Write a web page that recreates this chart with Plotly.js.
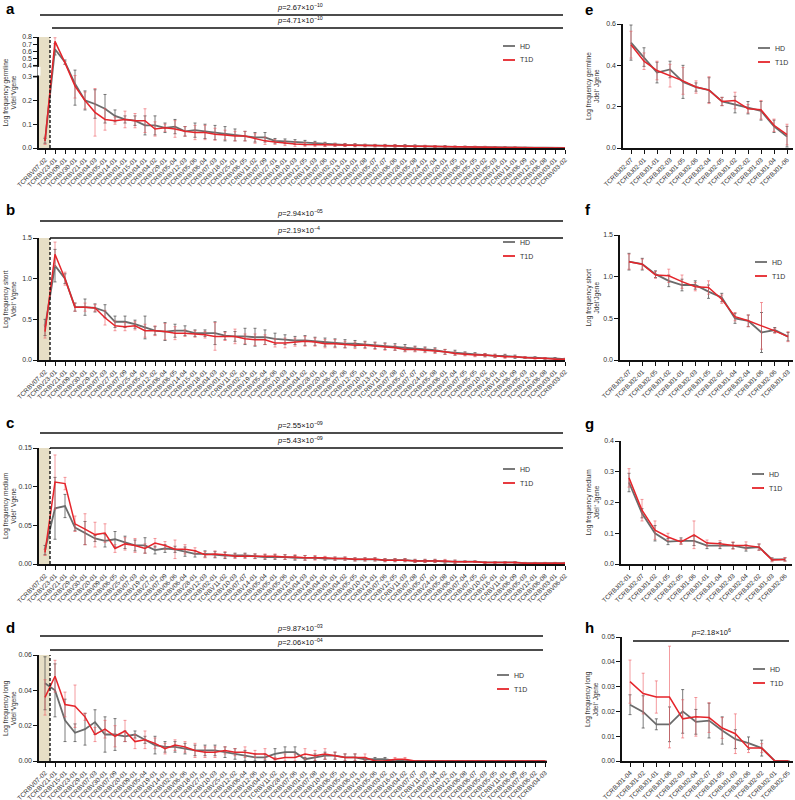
<!DOCTYPE html>
<html><head><meta charset="utf-8">
<script src="https://cdn.plot.ly/plotly-3.0.1.min.js"></script>
<style>html,body{margin:0;padding:0;background:#fff}#plot{width:795px;height:800px}</style>
</head><body><div id="plot"></div>
<script>
// ---------------- DATA ----------------
const catsA = ["TCRBV07-02","TCRBV23-01","TCRBV09-01","TCRBV30-01","TCRBV21-01","TCRBV04-03","TCRBV05-01","TCRBV14-01","TCRBV01-01","TCRBV15-01","TCRBV04-01","TCRBV04-02","TCRBV29-01","TCRBV05-04","TCRBV12-03","TCRBV05-06","TCRBV06-04","TCRBV07-03","TCRBV18-01","TCRBV25-01","TCRBV06-05","TCRBV11-02","TCRBV07-09","TCRBV27-01","TCRBV19-01","TCRBV10-03","TCRBV12-05","TCRBV11-03","TCRBV07-06","TCRBV02-01","TCRBV13-01","TCRBV10-01","TCRBV07-08","TCRBV05-07","TCRBV07-07","TCRBV06-06","TCRBV28-01","TCRBV05-08","TCRBV24-01","TCRBV07-04","TCRBV20-01","TCRBV07-05","TCRBV06-01","TCRBV05-05","TCRBV10-02","TCRBV05-03","TCRBV16-01","TCRBV11-01","TCRBV06-09","TCRBV12-01","TCRBV06-08","TCRBV03-01","TCRBV03-02"];
const hdA  = [0.03,0.63,0.45,0.27,0.20,0.185,0.165,0.135,0.12,0.115,0.095,0.095,0.085,0.09,0.07,0.075,0.07,0.065,0.06,0.055,0.05,0.045,0.045,0.03,0.028,0.025,0.022,0.02,0.016,0.014,0.013,0.012,0.011,0.010,0.010,0.009,0.009,0.008,0.007,0.006,0.006,0.005,0.005,0.004,0.004,0.003,0.003,0.002,0.002,0.001,0.001,0.001,0.0005];
const hdAe = [0.01,0.08,0.03,0.09,0.04,0.06,0.06,0.025,0.015,0.02,0.04,0.04,0.02,0.03,0.02,0.03,0.03,0.03,0.03,0.025,0.02,0.02,0.02,0.01,0.01,0.01,0.01,0.008,0.008,0.006,0.006,0.006,0.005,0.005,0.005,0.005,0.005,0.005,0.004,0.004,0.004,0.003,0.003,0.003,0.003,0.002,0.002,0.002,0.001,0.001,0.001,0.001,0.001];
const t1A  = [0.03,0.74,0.44,0.26,0.20,0.15,0.12,0.115,0.12,0.115,0.115,0.08,0.085,0.08,0.07,0.065,0.065,0.058,0.055,0.05,0.05,0.04,0.03,0.025,0.02,0.017,0.015,0.014,0.013,0.013,0.012,0.011,0.01,0.01,0.009,0.009,0.008,0.007,0.007,0.006,0.005,0.005,0.004,0.004,0.004,0.002,0.002,0.002,0.001,0.001,0.001,0.0005,0.0005];
const t1Ae = [0.015,0.05,0.02,0.05,0.035,0.1,0.045,0.015,0.035,0.03,0.05,0.03,0.015,0.035,0.02,0.03,0.03,0.025,0.02,0.02,0.02,0.02,0.015,0.01,0.01,0.01,0.008,0.008,0.007,0.006,0.006,0.006,0.005,0.005,0.005,0.005,0.004,0.004,0.004,0.004,0.003,0.003,0.003,0.003,0.002,0.002,0.002,0.002,0.001,0.001,0.001,0.001,0.001];

const catsB = ["TCRBV07-02","TCRBV23-01","TCRBV21-01","TCRBV09-01","TCRBV30-01","TCRBV29-01","TCRBV07-03","TCRBV27-01","TCRBV07-09","TCRBV25-04","TCRBV05-01","TCRBV12-02","TCRBV06-04","TCRBV06-05","TCRBV14-04","TCRBV15-01","TCRBV18-01","TCRBV04-03","TCRBV01-01","TCRBV11-02","TCRBV02-01","TCRBV19-01","TCRBV05-04","TCRBV05-06","TCRBV10-03","TCRBV04-01","TCRBV04-02","TCRBV28-01","TCRBV20-01","TCRBV06-06","TCRBV07-06","TCRBV12-05","TCRBV10-01","TCRBV13-01","TCRBV11-03","TCRBV07-08","TCRBV05-07","TCRBV07-07","TCRBV24-01","TCRBV05-08","TCRBV06-01","TCRBV07-04","TCRBV07-05","TCRBV05-05","TCRBV10-02","TCRBV16-01","TCRBV11-01","TCRBV06-09","TCRBV05-03","TCRBV12-01","TCRBV06-08","TCRBV03-01","TCRBV03-02"];
const hdB  = [0.40,1.16,1.00,0.65,0.65,0.64,0.60,0.47,0.47,0.44,0.40,0.36,0.35,0.36,0.36,0.33,0.33,0.33,0.30,0.29,0.29,0.28,0.28,0.26,0.25,0.24,0.24,0.23,0.22,0.21,0.20,0.20,0.19,0.18,0.17,0.16,0.15,0.14,0.13,0.12,0.10,0.09,0.08,0.07,0.06,0.05,0.05,0.04,0.03,0.03,0.02,0.02,0.01];
const hdBe = [0.10,0.20,0.06,0.05,0.10,0.05,0.08,0.07,0.07,0.05,0.14,0.05,0.11,0.08,0.06,0.04,0.04,0.14,0.05,0.06,0.10,0.11,0.09,0.07,0.06,0.05,0.06,0.05,0.05,0.05,0.05,0.04,0.04,0.04,0.04,0.04,0.04,0.03,0.03,0.03,0.03,0.03,0.02,0.02,0.02,0.02,0.02,0.02,0.01,0.01,0.01,0.01,0.01];
const t1B  = [0.35,1.30,1.00,0.65,0.65,0.64,0.52,0.42,0.41,0.42,0.36,0.36,0.35,0.33,0.33,0.32,0.31,0.29,0.29,0.29,0.26,0.25,0.25,0.21,0.21,0.22,0.23,0.22,0.20,0.20,0.19,0.18,0.18,0.17,0.16,0.15,0.13,0.13,0.12,0.11,0.10,0.08,0.07,0.06,0.06,0.05,0.04,0.04,0.03,0.02,0.02,0.01,0.01];
const t1Be = [0.08,0.15,0.08,0.05,0.05,0.04,0.09,0.06,0.05,0.05,0.08,0.06,0.10,0.08,0.04,0.04,0.04,0.17,0.05,0.09,0.06,0.07,0.06,0.05,0.06,0.05,0.06,0.05,0.05,0.05,0.04,0.04,0.04,0.04,0.04,0.03,0.03,0.03,0.03,0.03,0.03,0.02,0.02,0.02,0.02,0.02,0.02,0.01,0.01,0.01,0.01,0.01,0.01];

const catsC = ["TCRBV07-02","TCRBV23-01","TCRBV21-01","TCRBV29-01","TCRBV30-01","TCRBV20-01","TCRBV09-01","TCRBV06-05","TCRBV25-01","TCRBV07-03","TCRBV19-01","TCRBV27-01","TCRBV07-09","TCRBV06-06","TCRBV06-04","TCRBV28-01","TCRBV12-03","TCRBV02-01","TCRBV11-02","TCRBV10-03","TCRBV07-07","TCRBV14-01","TCRBV05-04","TCRBV05-01","TCRBV05-06","TCRBV15-01","TCRBV04-03","TCRBV18-01","TCRBV04-01","TCRBV01-01","TCRBV04-02","TCRBV05-05","TCRBV10-01","TCRBV13-01","TCRBV07-06","TCRBV12-05","TCRBV11-03","TCRBV07-08","TCRBV05-07","TCRBV24-01","TCRBV05-08","TCRBV06-01","TCRBV07-04","TCRBV07-05","TCRBV10-02","TCRBV16-01","TCRBV11-01","TCRBV06-09","TCRBV05-03","TCRBV12-01","TCRBV06-08","TCRBV03-01","TCRBV06-02"];
const hdC  = [0.018,0.072,0.075,0.047,0.040,0.033,0.030,0.032,0.028,0.024,0.024,0.018,0.020,0.019,0.016,0.013,0.013,0.012,0.011,0.011,0.011,0.010,0.009,0.009,0.009,0.008,0.008,0.008,0.007,0.007,0.007,0.006,0.006,0.006,0.005,0.005,0.005,0.004,0.004,0.004,0.003,0.003,0.003,0.003,0.002,0.002,0.002,0.002,0.001,0.001,0.001,0.001,0.001];
const hdCe = [0.006,0.040,0.015,0.004,0.015,0.004,0.008,0.010,0.008,0.007,0.010,0.005,0.005,0.004,0.006,0.004,0.004,0.004,0.004,0.003,0.003,0.003,0.003,0.003,0.003,0.003,0.003,0.002,0.002,0.002,0.002,0.002,0.002,0.002,0.002,0.002,0.002,0.002,0.002,0.002,0.002,0.002,0.001,0.001,0.001,0.001,0.001,0.001,0.001,0.001,0.001,0.001,0.001];
const t1C  = [0.015,0.106,0.104,0.052,0.045,0.038,0.040,0.020,0.026,0.024,0.020,0.027,0.024,0.019,0.019,0.017,0.012,0.013,0.012,0.010,0.010,0.010,0.010,0.010,0.009,0.009,0.008,0.008,0.008,0.007,0.007,0.006,0.006,0.006,0.005,0.005,0.005,0.004,0.004,0.004,0.004,0.003,0.003,0.003,0.002,0.002,0.002,0.002,0.001,0.001,0.001,0.001,0.001];
const t1Ce = [0.004,0.035,0.008,0.010,0.020,0.016,0.012,0.005,0.008,0.009,0.006,0.006,0.005,0.012,0.006,0.004,0.004,0.004,0.004,0.003,0.003,0.003,0.003,0.003,0.003,0.003,0.003,0.003,0.002,0.002,0.002,0.002,0.002,0.002,0.002,0.002,0.002,0.002,0.002,0.002,0.002,0.002,0.001,0.001,0.001,0.001,0.001,0.001,0.001,0.001,0.001,0.001,0.001];

const catsD = ["TCRBV07-02","TCRBV21-01","TCRBV15-01","TCRBV23-01","TCRBV29-01","TCRBV07-03","TCRBV30-01","TCRBV07-09","TCRBV20-01","TCRBV09-01","TCRBV05-04","TCRBV19-01","TCRBV14-01","TCRBV02-01","TCRBV06-06","TCRBV18-01","TCRBV27-01","TCRBV10-03","TCRBV25-01","TCRBV12-02","TCRBV06-04","TCRBV12-06","TCRBV04-01","TCRBV11-02","TCRBV28-01","TCRBV07-06","TCRBV01-01","TCRBV07-08","TCRBV10-01","TCRBV06-05","TCRBV05-01","TCRBV06-01","TCRBV13-01","TCRBV05-06","TCRBV03-02","TCRBV16-01","TCRBV04-02","TCRBV07-07","TCRBV11-03","TCRBV07-04","TCRBV10-02","TCRBV12-01","TCRBV06-08","TCRBV06-07","TCRBV05-03","TCRBV05-05","TCRBV11-01","TCRBV06-09","TCRBV07-05","TCRBV06-02","TCRBV04-03"];
const hdD  = [0.044,0.040,0.023,0.016,0.018,0.022,0.015,0.015,0.014,0.015,0.012,0.009,0.008,0.008,0.007,0.006,0.006,0.006,0.005,0.004,0.003,0.002,0.002,0.004,0.005,0.005,0.001,0.002,0.003,0.003,0.002,0.002,0.001,0.001,0.001,0.0,0.0,0.0,0.0,0.0,0.0,0.0,0.0,0.0,0.0,0.0,0.0,0.0,0.0,0.0,0.0];
const hdDe = [0.015,0.015,0.012,0.005,0.009,0.007,0.010,0.009,0.003,0.002,0.002,0.005,0.003,0.003,0.003,0.003,0.003,0.003,0.003,0.003,0.003,0.002,0.002,0.003,0.003,0.003,0.001,0.002,0.002,0.002,0.002,0.002,0.001,0.001,0.001,0.0,0.0,0.0,0.0,0.0,0.0,0.0,0.0,0.0,0.0,0.0,0.0,0.0,0.0,0.0,0.0];
const t1D  = [0.036,0.048,0.032,0.031,0.025,0.015,0.018,0.014,0.017,0.011,0.012,0.010,0.007,0.009,0.008,0.006,0.005,0.005,0.006,0.005,0.005,0.004,0.004,0.001,0.002,0.002,0.004,0.003,0.004,0.003,0.002,0.002,0.002,0.0,0.0,0.001,0.001,0.0,0.0,0.0,0.0,0.0,0.0,0.0,0.0,0.0,0.0,0.0,0.0,0.0,0.0];
const t1De = [0.010,0.009,0.007,0.012,0.002,0.004,0.005,0.006,0.006,0.004,0.005,0.003,0.003,0.003,0.003,0.004,0.003,0.003,0.002,0.002,0.003,0.002,0.003,0.001,0.002,0.002,0.003,0.003,0.003,0.002,0.002,0.002,0.002,0.0,0.0,0.001,0.001,0.0,0.0,0.0,0.0,0.0,0.0,0.0,0.0,0.0,0.0,0.0,0.0,0.0,0.0];

const catsE = ["TCRBJ02-07","TCRBJ02-01","TCRBJ01-01","TCRBJ02-03","TCRBJ01-05","TCRBJ02-06","TCRBJ02-04","TCRBJ02-05","TCRBJ01-02","TCRBJ02-02","TCRBJ01-03","TCRBJ01-04","TCRBJ01-06"];
const hdE  = [0.51,0.44,0.365,0.38,0.32,0.295,0.28,0.225,0.21,0.195,0.18,0.105,0.055];
const hdEe = [0.085,0.045,0.05,0.04,0.08,0.02,0.06,0.02,0.04,0.03,0.045,0.03,0.05];
const t1E  = [0.50,0.42,0.375,0.35,0.325,0.295,0.28,0.225,0.23,0.19,0.185,0.11,0.065];
const t1Ee = [0.065,0.04,0.045,0.055,0.065,0.03,0.065,0.02,0.04,0.02,0.045,0.03,0.05];

const catsF = ["TCRBJ02-07","TCRBJ02-01","TCRBJ02-05","TCRBJ01-02","TCRBJ01-01","TCRBJ02-03","TCRBJ01-05","TCRBJ02-02","TCRBJ01-04","TCRBJ02-04","TCRBJ01-06","TCRBJ02-06","TCRBJ01-03"];
const hdF  = [1.18,1.15,1.03,0.95,0.90,0.90,0.82,0.75,0.50,0.47,0.33,0.36,0.28];
const hdFe = [0.10,0.07,0.04,0.07,0.07,0.05,0.08,0.05,0.06,0.07,0.24,0.03,0.05];
const t1F  = [1.18,1.15,1.02,1.01,0.94,0.88,0.87,0.73,0.52,0.47,0.41,0.35,0.28];
const t1Fe = [0.09,0.06,0.04,0.08,0.08,0.05,0.08,0.05,0.05,0.07,0.28,0.03,0.06];

const catsG = ["TCRBJ02-01","TCRBJ02-07","TCRBJ01-02","TCRBJ01-05","TCRBJ02-05","TCRBJ01-06","TCRBJ01-01","TCRBJ01-04","TCRBJ02-03","TCRBJ02-04","TCRBJ02-02","TCRBJ01-03","TCRBJ02-06"];
const hdG  = [0.265,0.165,0.10,0.073,0.075,0.075,0.06,0.06,0.06,0.052,0.055,0.015,0.015];
const hdGe = [0.03,0.015,0.025,0.01,0.01,0.015,0.01,0.01,0.01,0.01,0.01,0.005,0.005];
const t1G  = [0.28,0.175,0.11,0.088,0.072,0.095,0.068,0.066,0.06,0.06,0.055,0.013,0.015];
const t1Ge = [0.03,0.035,0.03,0.012,0.008,0.045,0.01,0.01,0.012,0.012,0.01,0.006,0.006];

const catsH = ["TCRBJ01-04","TCRBJ01-02","TCRBJ01-01","TCRBJ01-06","TCRBJ02-03","TCRBJ02-04","TCRBJ02-07","TCRBJ01-05","TCRBJ01-03","TCRBJ02-06","TCRBJ02-02","TCRBJ02-01","TCRBJ02-05"];
const hdH  = [0.0227,0.0198,0.0148,0.0148,0.0200,0.0158,0.0163,0.0123,0.0088,0.0072,0.0052,0.0,0.0];
const hdHe = [0.004,0.0065,0.0022,0.007,0.0088,0.005,0.007,0.0055,0.0038,0.0025,0.0032,0.0,0.0];
const t1H  = [0.0320,0.0272,0.0258,0.0258,0.0170,0.0178,0.0175,0.0133,0.0110,0.0052,0.0052,0.0,0.0];
const t1He = [0.0087,0.0082,0.0065,0.0205,0.0077,0.0078,0.006,0.0042,0.008,0.0018,0.0018,0.0,0.0];

const pvals = {a:["2.67","−10","4.71","−10"], b:["2.94","−05","2.19","−4"], c:["2.55","−09","5.43","−09"], d:["9.87","−03","2.06","−04"], h:["2.18","6"]};

// -------------- LAYOUT HELPERS ---------------
const W = 795, H = 800;
const PX = p => p / W, PY = p => 1 - p / H;
const HDc = "#6b6b6b", T1c = "#e5252b";
const HDe = "rgba(80,80,80,0.75)", T1e = "rgba(236,90,96,0.6)";
const FONT = "Liberation Sans, Arial, sans-serif";

// piecewise scale for broken axis in panel a
function ty(v){ return v <= 0.3 ? v : (v <= 0.4 ? 0.3 + (v-0.3)*0.458 : 0.3458 + (v-0.4)*0.302); }

const panels = [
 {k:'a', cats:catsA, hd:hdA, hde:hdAe, t1:t1A, t1e:t1Ae, xd:[39,565], x0:45, dx:10, yd:[148,37], yr:[0,0.8], ticks:[0,0.1,0.2,0.3,0.4,0.5,0.6,0.7,0.8], fmt:1, brk:true, band:true,
  title:"Log frequency germline<br>Vdel⁺Vgene", tx:10, leg:[503,46], pl:[[40,15],[52,28]], plEnd:563},
 {k:'b', cats:catsB, hd:hdB, hde:hdBe, t1:t1B, t1e:t1Be, xd:[39,565], x0:45, dx:10, yd:[360,238], yr:[0,1.5], ticks:[0,0.5,1,1.5], fmt:1, band:true,
  title:"Log frequency short<br>Vdel⁺ Vgene", tx:10, leg:[503,242], pl:[[40,221],[50,238]], plEnd:563},
 {k:'c', cats:catsC, hd:hdC, hde:hdCe, t1:t1C, t1e:t1Ce, xd:[39,565], x0:45, dx:10, yd:[564,448], yr:[0,0.15], ticks:[0,0.05,0.10,0.15], fmt:2, band:true,
  title:"Log frequency medium<br>Vdel⁺ Vgene", tx:10, leg:[503,469], pl:[[40,433],[50,448]], plEnd:563},
 {k:'d', cats:catsD, hd:hdD, hde:hdDe, t1:t1D, t1e:t1De, xd:[39,547], x0:45, dx:10, yd:[761,655], yr:[0,0.06], ticks:[0,0.02,0.04,0.06], fmt:2, band:true,
  title:"Log frequency long<br>Vdel⁺Vgene", tx:10, leg:[497,675], pl:[[40,636],[50,650]], plEnd:543},
 {k:'e', cats:catsE, hd:hdE, hde:hdEe, t1:t1E, t1e:t1Ee, xd:[623,793], x0:631, dx:13, yd:[148,24], yr:[0,0.6], ticks:[0,0.2,0.4,0.6], fmt:1,
  title:"Log frequency germline<br>Jdel⁺ Jgene", tx:593, leg:[758,48]},
 {k:'f', cats:catsF, hd:hdF, hde:hdFe, t1:t1F, t1e:t1Fe, xd:[620,793], x0:629, dx:13.25, yd:[360,235], yr:[0,1.5], ticks:[0,0.5,1,1.5], fmt:1,
  title:"Log frequency short<br>Jdel⁺Jgene", tx:593, leg:[755,262]},
 {k:'g', cats:catsG, hd:hdG, hde:hdGe, t1:t1G, t1e:t1Ge, xd:[621,792], x0:629, dx:13, yd:[564,441], yr:[0,0.4], ticks:[0,0.1,0.2,0.3,0.4], fmt:1,
  title:"Log frequency medium<br>Jdel⁺ Jgene", tx:592, leg:[752,474]},
 {k:'h', cats:catsH, hd:hdH, hde:hdHe, t1:t1H, t1e:t1He, xd:[622,793], x0:630, dx:13.17, yd:[761,637], yr:[0,0.05], ticks:[0,0.01,0.02,0.03,0.04,0.05], fmt:2,
  title:"Log frequency long<br>Jdel⁺ Jgene", tx:592, leg:[753,669], plH:[[633,641],789]},
];
const letters = [['a',4,8],['b',4,210],['c',4,422],['d',4,627],['e',583,10],['f',583,210],['g',583,423],['h',583,627]];

const traces = [], layout = {
  width:W, height:H, margin:{l:0,r:0,t:0,b:0}, showlegend:false,
  paper_bgcolor:'#fff', plot_bgcolor:'rgba(0,0,0,0)', font:{family:FONT, size:7, color:'#222'},
  shapes:[], annotations:[]
};

panels.forEach((p, n) => {
  const id = n === 0 ? '' : String(n+1);
  const xa = 'x'+id, ya = 'y'+id;
  const idx = p.cats.map((_, i) => i);
  const tr = p.brk ? ty : (v => v);
  const mk = (vals, errs, lc, ec, lw, name) => ({
    type:'scatter', mode:'lines', x:idx, y:vals.map(tr), name, xaxis:xa, yaxis:ya,
    line:{color:lc, width:lw}, hoverinfo:'skip',
    error_y:{type:'data', symmetric:false,
      array: vals.map((v,i)=>tr(v+errs[i])-tr(v)),
      arrayminus: vals.map((v,i)=>tr(v)-tr(Math.max(0,v-errs[i]))),
      color:ec, thickness:1, width:1.5}
  });
  traces.push(mk(p.hd, p.hde, HDc, HDe, 1.8, 'HD'));
  traces.push(mk(p.t1, p.t1e, T1c, T1e, 1.5, 'T1D'));

  const xr0 = (p.xd[0]-p.x0)/p.dx, xr1 = (p.xd[1]-p.x0)/p.dx;
  const yTop = p.brk ? ty(p.yr[1]) : p.yr[1];
  layout['xaxis'+id] = {domain:[PX(p.xd[0]), PX(p.xd[1])], anchor:ya, range:[xr0, xr1],
    tickvals:idx, ticktext:p.cats, tickangle:-45, ticks:'outside', ticklen:4, tickwidth:1, tickcolor:'#111',
    showline:true, linecolor:'#111', linewidth:1.6, showgrid:false, zeroline:false,
    tickfont:{size:6.5, color:'#333'}, fixedrange:true};
  layout['yaxis'+id] = {domain:[PY(p.yd[0]), PY(p.yd[1])], anchor:xa, range:[0, yTop],
    tickvals:p.ticks.map(tr), ticktext:p.ticks.map(v=>v.toFixed(p.fmt)), ticks:'outside', ticklen:4, tickwidth:1, tickcolor:'#111',
    showline:true, linecolor:'#111', linewidth:1.6, showgrid:false, zeroline:false,
    tickfont:{size:7, color:'#333'}, fixedrange:true};
  layout.annotations.push({xref:'paper', yref:'paper', x:PX(p.tx), y:PY((p.yd[0]+p.yd[1])/2), textangle:-90,
    xanchor:'center', yanchor:'middle', showarrow:false, text:p.title, font:{size:6.5, color:'#333'}});

  if (p.brk) {
    layout.shapes.push({type:'line', xref:xa+' domain', yref:ya, x0:0, x1:0, y0:ty(0.31), y1:ty(0.39), line:{color:'#fff', width:3}});
    [0.3, 0.4].forEach(v => layout.shapes.push({type:'line', xref:'paper', yref:ya, x0:PX(p.xd[0]-6), x1:PX(p.xd[0]), y0:ty(v), y1:ty(v), line:{color:'#111', width:1.6}}));
  }
  if (p.band) {
    layout.shapes.push({type:'rect', xref:xa, yref:ya+' domain', x0:xr0, x1:0.5, y0:0, y1:1, fillcolor:'#e7dfc6', line:{width:0}, layer:'below'});
    layout.shapes.push({type:'line', xref:xa, yref:ya+' domain', x0:0.5, x1:0.5, y0:0, y1:1, line:{color:'#111', width:1.4, dash:'3px,2px'}});
  }
  if (p.pl) {
    const pv = pvals[p.k];
    p.pl.forEach((pt, j) => {
      layout.shapes.push({type:'line', xref:'paper', yref:'paper', x0:PX(pt[0]), x1:PX(p.plEnd), y0:PY(pt[1]), y1:PY(pt[1]), line:{color:'#111', width:1.5}});
      layout.annotations.push({xref:'paper', yref:'paper', x:PX(275), y:PY(pt[1]-1), xanchor:'left', yanchor:'bottom', showarrow:false,
        text:'<i>p</i>=' + pv[2*j] + '×10<sup>' + pv[2*j+1] + '</sup>', font:{size:7.5, color:'#111'}});
    });
  }
  if (p.plH) {
    const pv = pvals[p.k];
    layout.shapes.push({type:'line', xref:'paper', yref:'paper', x0:PX(p.plH[0][0]), x1:PX(p.plH[1]), y0:PY(p.plH[0][1]), y1:PY(p.plH[0][1]), line:{color:'#111', width:1.5}});
    layout.annotations.push({xref:'paper', yref:'paper', x:PX(711), y:PY(p.plH[0][1]-2), xanchor:'center', yanchor:'bottom', showarrow:false,
      text:'<i>p</i>=' + pv[0] + '×10<sup>' + pv[1] + '</sup>', font:{size:7.5, color:'#111'}});
  }
  [['HD', HDc, 0], ['T1D', T1c, 14]].forEach(([nm, c, dy]) => {
    const yy = p.leg[1] + dy;
    layout.shapes.push({type:'line', xref:'paper', yref:'paper', x0:PX(p.leg[0]), x1:PX(p.leg[0]+12), y0:PY(yy), y1:PY(yy), line:{color:c, width:1.8}});
    layout.annotations.push({xref:'paper', yref:'paper', x:PX(p.leg[0]+15), y:PY(yy), xanchor:'left', yanchor:'middle', showarrow:false, text:nm, font:{size:7, color:'#333'}});
  });
});

letters.forEach(([t, x, y]) => layout.annotations.push({xref:'paper', yref:'paper', x:PX(x), y:PY(y), xanchor:'left', yanchor:'middle', showarrow:false,
  text:'<b>'+t+'</b>', font:{size:15, color:'#000', family:'Liberation Sans, Arial, sans-serif'}}));

Plotly.newPlot('plot', traces, layout, {staticPlot:true});
</script></body></html>
